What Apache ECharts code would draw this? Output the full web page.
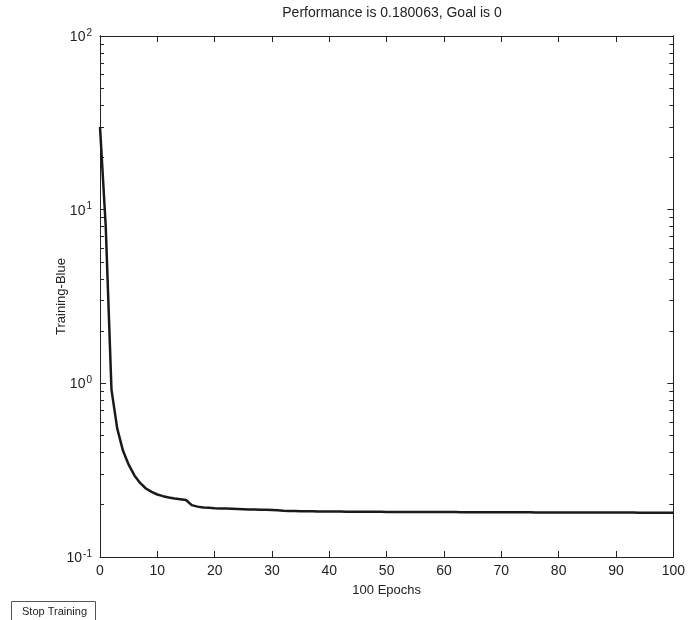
<!DOCTYPE html>
<html><head><meta charset="utf-8">
<script src="https://cdn.jsdelivr.net/npm/echarts@6/dist/echarts.min.js"></script>
<style>html,body{margin:0;padding:0;background:#fff}#c{width:688px;height:620px}</style>
</head><body><div id="c"></div>
<script>
const titleText = 'Performance is 0.180063, Goal is 0';
const xName = '100 Epochs';
const yName = 'Training-Blue';
const epochs = [0,1,2,3,4,5,6,7,8,9,10,11,12,13,14,15,16,17,18,19,20,21,22,23,24,25,26,27,28,29,30,31,32,33,34,35,36,37,38,39,40,41,42,43,44,45,46,47,48,49,50,51,52,53,54,55,56,57,58,59,60,61,62,63,64,65,66,67,68,69,70,71,72,73,74,75,76,77,78,79,80,81,82,83,84,85,86,87,88,89,90,91,92,93,94,95,96,97,98,99,100];
const perf = [30,8,0.92,0.55,0.41,0.34,0.295,0.267,0.248,0.237,0.229,0.224,0.220,0.217,0.215,0.213,0.199,0.195,0.193,0.192,0.191,0.1905,0.190,0.1895,0.189,0.1885,0.188,0.1875,0.187,0.1868,0.1865,0.186,0.1845,0.184,0.1838,0.1836,0.1834,0.1832,0.183,0.1829,0.1828,0.1827,0.1826,0.1825,0.1824,0.1823,0.1822,0.1821,0.182,0.182,0.1819,0.1818,0.1818,0.1817,0.1817,0.1816,0.1816,0.1815,0.1815,0.1814,0.1814,0.1813,0.1813,0.1812,0.1812,0.1811,0.1811,0.181,0.181,0.1809,0.1809,0.1808,0.1808,0.1807,0.1807,0.1807,0.1806,0.1806,0.1806,0.1805,0.1805,0.1805,0.1804,0.1804,0.1804,0.1803,0.1803,0.1803,0.1803,0.1802,0.1802,0.1802,0.1802,0.1802,0.1801,0.1801,0.1801,0.1801,0.1801,0.1801,0.180063];
const xTicks = [0,10,20,30,40,50,60,70,80,90,100];
const yMajor = [0.1,1,10,100];
const yMinor = [0.2,0.3,0.4,0.5,0.6,0.7,0.8,0.9,2,3,4,5,6,7,8,9,20,30,40,50,60,70,80,90];

const FONT = '"Liberation Sans", Arial, sans-serif';
const lineCol = '#222';
const chart = echarts.init(document.getElementById('c'), null, {renderer:'canvas'});
const grid = {left:100, right:13, top:36, bottom:63, containLabel:false};
function yAx(pos, ticks, len, labels){
  return {
    type:'log', logBase:10, min:0.1, max:100, position:pos, offset:0,
    axisLine:{show:true, lineStyle:{color:lineCol, width:1}},
    axisTick:{show:true, inside:true, length:len, customValues:ticks, lineStyle:{color:lineCol}},
    axisLabel: labels ? {
      show:true, customValues:yMajor, margin:8,
      formatter: v => '{b|10}{s|' + Math.round(Math.log10(v)) + '}',
      rich:{ b:{fontFamily:FONT, fontSize:14, color:'#222', verticalAlign:'bottom', lineHeight:16},
             s:{fontFamily:FONT, fontSize:10, color:'#222', verticalAlign:'top', lineHeight:16, padding:[0,0,10,1]} }
    } : {show:false},
    splitLine:{show:false}, minorTick:{show:false}
  };
}
const yAxes = [yAx('left', yMajor, 6, true), yAx('left', yMinor, 4, false), yAx('right', yMajor, 6, false), yAx('right', yMinor, 4, false)];
yAxes[0].name = yName;
yAxes[0].nameLocation = 'middle';
yAxes[0].nameGap = 32;
yAxes[0].nameMoveOverlap = false;
yAxes[0].nameTextStyle = {fontFamily:FONT, fontSize:13, color:'#222'};

option = {
  backgroundColor:'#fff',
  animation:false,
  title:{text:titleText, left:387, top:1, textAlign:'center', textStyle:{fontFamily:FONT, fontSize:14, fontWeight:'normal', color:'#222'}},
  grid: grid,
  xAxis:[
    {type:'value', min:0, max:100, interval:10, position:'bottom',
     name:xName, nameLocation:'middle', nameGap:27, nameMoveOverlap:false, nameTextStyle:{fontFamily:FONT, fontSize:13, color:'#222'},
     axisLine:{show:true, onZero:false, lineStyle:{color:lineCol}},
     axisTick:{show:true, inside:true, length:6, customValues:xTicks, lineStyle:{color:lineCol}},
     axisLabel:{show:true, customValues:xTicks, fontFamily:FONT, fontSize:14, color:'#222', margin:7},
     splitLine:{show:false}},
    {type:'value', min:0, max:100, interval:10, position:'top',
     axisLine:{show:true, onZero:false, lineStyle:{color:lineCol}},
     axisTick:{show:true, inside:true, length:6, customValues:xTicks, lineStyle:{color:lineCol}},
     axisLabel:{show:false}, splitLine:{show:false}}
  ],
  yAxis: yAxes,
  series:[{
    type:'line', xAxisIndex:0, yAxisIndex:0, showSymbol:false, symbol:'none',
    data: epochs.map((e,i)=>[e, perf[i]]),
    lineStyle:{color:'#1a1a1a', width:2.5}, clip:true
  }],
  graphic:[
    {type:'rect', left:11, top:601, shape:{width:84, height:22}, style:{fill:'#fff', stroke:'#555', lineWidth:1}},
    {type:'text', left:22, top:606, style:{text:'Stop Training', font:'11px ' + FONT, fill:'#222'}}
  ]
};
chart.setOption(option);
</script></body></html>
